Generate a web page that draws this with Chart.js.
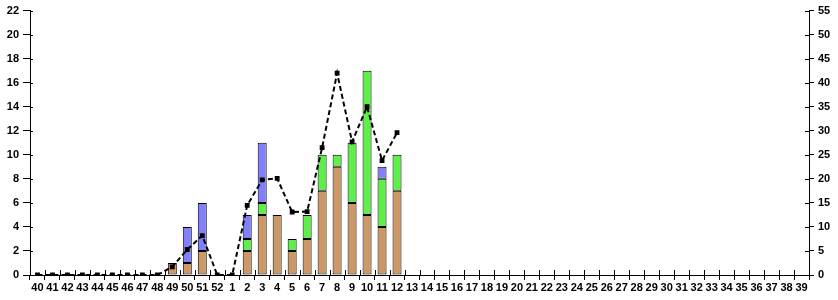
<!DOCTYPE html>
<html>
<head>
<meta charset="utf-8">
<script src="https://cdn.jsdelivr.net/npm/chart.js@4"></script>
<style>
  html, body { margin: 0; padding: 0; background: #fff; }
  #wrap { width: 838px; height: 300px; }
</style>
</head>
<body>
<div id="wrap"><canvas id="myChart" width="838" height="300"></canvas></div>
<script>
const weeks = ['40','41','42','43','44','45','46','47','48','49','50','51','52',
  '1','2','3','4','5','6','7','8','9','10','11','12','13','14','15','16','17','18','19','20',
  '21','22','23','24','25','26','27','28','29','30','31','32','33','34','35','36','37','38','39']

// stacked bars (left axis), week 40 .. week 39
const brown = [null,null,null,null,null,null,null,null,null,1,1,2,null,
  null,2,5,5,2,3,7,9,6,5,4,7]
const green = [null,null,null,null,null,null,null,null,null,null,null,null,null,
  null,1,1,null,1,2,3,1,5,12,4,3]
const blue = [null,null,null,null,null,null,null,null,null,null,3,4,null,
  null,2,5,null,null,null,null,null,null,null,1,null]

// dashed line (right axis)
const lineVals = [0,0,0,0,0,0,0,0,0,1.7,5.3,8.2,0,
  0,14.5,19.8,20.1,13.1,13.2,26.5,42,27.7,35,23.8,29.6]

const leftMax = 22
const rightMax = 55

const pad = arr => weeks.map((w, i) => (i < arr.length ? arr[i] : null))

const fontTick = { family: 'Arial, "Liberation Sans", sans-serif', size: 11, weight: 'bold' }

// tick marks that cross the axis line, like the original
const crossTicks = {
  id: 'crossTicks',
  afterDraw(chart) {
    const c = chart.ctx
    const x = chart.scales.x
    const yl = chart.scales.y
    const yr = chart.scales.y2
    c.save()
    c.strokeStyle = '#000'
    c.lineWidth = 1
    c.beginPath()
    const n = weeks.length
    for (let i = 0; i <= n; i++) {
      const px = Math.round(x.left + (x.right - x.left) * i / n) + 0.5
      c.moveTo(px, x.top - 5)
      c.lineTo(px, x.top)
    }
    yl.ticks.forEach(t => {
      const py = Math.round(yl.getPixelForValue(t.value)) + 0.5
      c.moveTo(yl.right, py)
      c.lineTo(yl.right + 3, py)
    })
    yr.ticks.forEach(t => {
      const py = Math.round(yr.getPixelForValue(t.value)) + 0.5
      c.moveTo(yr.left - 4, py)
      c.lineTo(yr.left, py)
    })
    c.stroke()
    c.restore()
  }
}

const ctx = document.querySelector('#myChart')

new Chart(ctx, {
  data: {
    labels: weeks,
    datasets: [
      {
        type: 'line',
        data: pad(lineVals),
        yAxisID: 'y2',
        borderColor: '#000',
        borderWidth: 2,
        borderDash: [5, 3],
        pointStyle: 'rect',
        pointRadius: 2,
        pointBackgroundColor: '#000',
        pointBorderColor: '#000',
        spanGaps: false,
        order: 0
      },
      {
        type: 'bar',
        data: pad(brown),
        backgroundColor: '#CC9966',
        borderColor: '#000',
        borderWidth: 1,
        borderSkipped: false,
        barPercentage: 0.6,
        categoryPercentage: 1,
        order: 1
      },
      {
        type: 'bar',
        data: pad(green),
        backgroundColor: '#5EEF48',
        borderColor: '#000',
        borderWidth: 1,
        borderSkipped: false,
        barPercentage: 0.6,
        categoryPercentage: 1,
        order: 1
      },
      {
        type: 'bar',
        data: pad(blue),
        backgroundColor: '#8080FF',
        borderColor: '#000',
        borderWidth: 1,
        borderSkipped: false,
        barPercentage: 0.6,
        categoryPercentage: 1,
        order: 1
      }
    ]
  },
  options: {
    responsive: false,
    animation: false,
    layout: { padding: { top: 6, left: 0, right: 0, bottom: 0 } },
    plugins: {
      legend: { display: false },
      tooltip: { enabled: false }
    },
    scales: {
      x: {
        stacked: true,
        offset: true,
        border: { color: '#000', width: 1 },
        grid: { display: true, offset: true, drawOnChartArea: false, drawTicks: true, tickLength: 5, color: '#000' },
        ticks: { color: '#000', font: fontTick, autoSkip: false, maxRotation: 0, padding: 1 },
        afterFit(s) { s.height = 25 }
      },
      y: {
        stacked: true,
        position: 'left',
        min: 0,
        max: leftMax,
        border: { color: '#000', width: 1 },
        grid: { drawOnChartArea: false, drawTicks: true, tickLength: 7, color: '#000' },
        ticks: { stepSize: 2, color: '#000', font: fontTick, padding: 4 },
        afterFit(s) { s.width = 30 }
      },
      y2: {
        stacked: false,
        position: 'right',
        min: 0,
        max: rightMax,
        border: { color: '#000', width: 1 },
        grid: { drawOnChartArea: false, drawTicks: true, tickLength: 5, color: '#000' },
        ticks: { stepSize: 5, color: '#000', font: fontTick, padding: 4 },
        afterFit(s) { s.width = 29 }
      }
    }
  },
  plugins: [crossTicks]
})
</script>
</body>
</html>
